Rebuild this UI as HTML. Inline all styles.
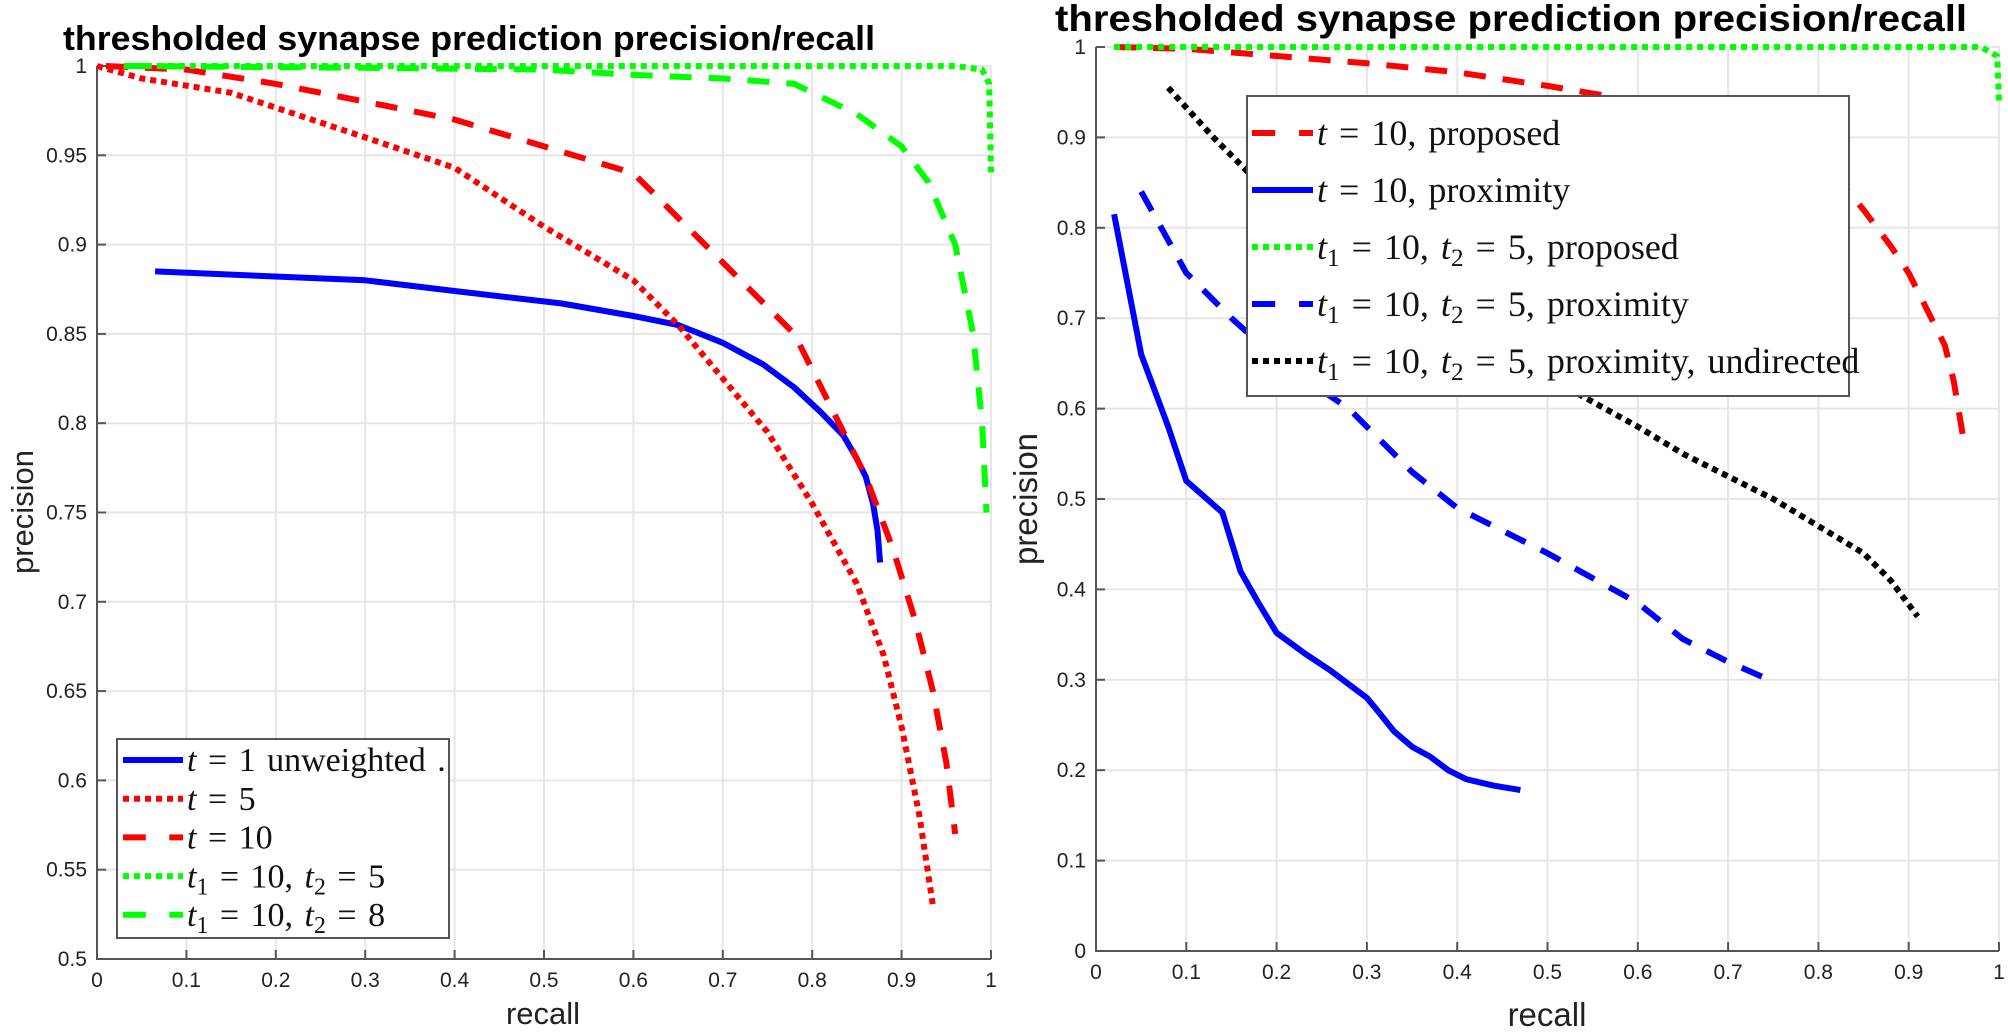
<!DOCTYPE html>
<html><head><meta charset="utf-8">
<style>
html,body{margin:0;padding:0;background:#fff;}
svg{display:block;}
.tk{font-family:"Liberation Sans",sans-serif;font-size:21px;fill:#222;}
.ttl{font-family:"Liberation Sans",sans-serif;font-weight:bold;fill:#000;}
.lab{font-family:"Liberation Sans",sans-serif;fill:#222;}
.leg{font-family:"Liberation Serif",serif;fill:#111;word-spacing:3px;}
</style></head>
<body>
<svg id="chart" width="2008" height="1032" viewBox="0 0 2008 1032" xmlns="http://www.w3.org/2000/svg">
<text class="ttl" x="63" y="50" font-size="34" textLength="812" lengthAdjust="spacingAndGlyphs">thresholded synapse prediction precision/recall</text>
<text class="ttl" x="1055" y="31" font-size="37" textLength="912" lengthAdjust="spacingAndGlyphs">thresholded synapse prediction precision/recall</text>
<text class="lab" x="543" y="1024" font-size="31" text-anchor="middle">recall</text>
<text class="lab" transform="translate(33,512) rotate(-90)" font-size="31" text-anchor="middle">precision</text>
<text class="lab" x="1547" y="1026" font-size="33" text-anchor="middle">recall</text>
<text class="lab" transform="translate(1037,499) rotate(-90)" font-size="33" text-anchor="middle">precision</text>
<g id="L"></g>
<g id="R"></g>
</svg>
<script>
// ---- Left chart data ----
const leftXTicks = [0,0.1,0.2,0.3,0.4,0.5,0.6,0.7,0.8,0.9,1];
const leftYTicks = [0.5,0.55,0.6,0.65,0.7,0.75,0.8,0.85,0.9,0.95,1];
const leftT1Recall = [0.065,0.3,0.4,0.52,0.6,0.65,0.7,0.745,0.78,0.81,0.835,0.85,0.86,0.868,0.873,0.876];
const leftT1Prec   = [0.885,0.88,0.874,0.867,0.86,0.855,0.845,0.833,0.82,0.806,0.793,0.78,0.77,0.755,0.74,0.722];
const leftT5Recall = [0,0.05,0.15,0.3,0.4,0.5,0.6,0.65,0.7,0.75,0.8,0.85,0.88,0.9,0.92,0.935];
const leftT5Prec   = [1,0.993,0.985,0.96,0.943,0.91,0.88,0.855,0.825,0.795,0.755,0.71,0.67,0.63,0.58,0.53];
const leftT10Recall = [0.01,0.1,0.2,0.3,0.4,0.5,0.6,0.7,0.78,0.82,0.86,0.89,0.915,0.935,0.95,0.96];
const leftT10Prec   = [1,0.998,0.99,0.98,0.97,0.955,0.94,0.89,0.85,0.81,0.77,0.73,0.69,0.65,0.61,0.57];
const leftT105Recall = [0.03,0.96,0.99,0.998,1];
const leftT105Prec   = [1,1,0.998,0.99,0.94];
const leftT108Recall = [0.03,0.3,0.5,0.6,0.7,0.78,0.85,0.9,0.93,0.96,0.98,0.99,0.995];
const leftT108Prec   = [1,0.999,0.998,0.995,0.993,0.99,0.973,0.955,0.935,0.9,0.85,0.8,0.75];
// ---- Right chart data ----
const rightXTicks = [0,0.1,0.2,0.3,0.4,0.5,0.6,0.7,0.8,0.9,1];
const rightYTicks = [0,0.1,0.2,0.3,0.4,0.5,0.6,0.7,0.8,0.9,1];
const rPropRecall = [0.02,0.1,0.2,0.3,0.4,0.5,0.6,0.7,0.8,0.85,0.88,0.9,0.92,0.94,0.95,0.96];
const rPropPrec   = [1,0.998,0.99,0.982,0.972,0.957,0.94,0.92,0.88,0.82,0.78,0.75,0.71,0.67,0.63,0.57];
const rProxRecall = [0.02,0.05,0.08,0.1,0.14,0.16,0.18,0.2,0.23,0.26,0.3,0.31,0.33,0.35,0.37,0.39,0.41,0.44,0.47];
const rProxPrec   = [0.815,0.66,0.58,0.52,0.485,0.42,0.385,0.352,0.33,0.31,0.28,0.268,0.243,0.226,0.215,0.2,0.19,0.183,0.178];
const rT2PropRecall = [0.02,0.98,0.998,1];
const rT2PropPrec   = [1,1,0.99,0.94];
const rT2ProxRecall = [0.05,0.1,0.15,0.2,0.25,0.28,0.3,0.35,0.4,0.5,0.6,0.65,0.7,0.75];
const rT2ProxPrec   = [0.84,0.75,0.7,0.655,0.62,0.6,0.58,0.53,0.49,0.44,0.385,0.345,0.32,0.298];
const rUndRecall = [0.08,0.13,0.2,0.3,0.4,0.5,0.6,0.65,0.7,0.75,0.85,0.88,0.91];
const rUndPrec   = [0.955,0.9,0.83,0.74,0.68,0.635,0.58,0.55,0.525,0.5,0.44,0.41,0.37];

const NS='http://www.w3.org/2000/svg';
function mk(tag,attrs,parent){const e=document.createElementNS(NS,tag);for(const k in attrs)e.setAttribute(k,attrs[k]);parent.appendChild(e);return e;}
const DASH='22 17', DOT='6 5';
const BLUE='#0000ff', RED='#ff0000', GREEN='#00ff00', BLACK='#000';

function axes(g,x0,x1,y0,y1,xmin,xmax,ymin,ymax,xt,yt,side){
  const sx=v=>x0+(v-xmin)/(xmax-xmin)*(x1-x0);
  const sy=v=>y0-(v-ymin)/(ymax-ymin)*(y0-y1);
  xt.forEach(v=>{
    const l=mk('line',{x1:sx(v),x2:sx(v),y1:y0,y2:y1,stroke:'#e6e6e6','stroke-width':2},g);
    
    
    const t=mk('line',{x1:sx(v),x2:sx(v),y1:y0,y2:y0-9,stroke:'#555','stroke-width':2},g);
    
    
    const tx=mk('text',{x:sx(v),y:y0+28,'text-anchor':'middle',class:'tk'},g);
    tx.textContent=String(v);
    
    
  });
  yt.forEach(v=>{
    const l=mk('line',{x1:x0,x2:x1,y1:sy(v),y2:sy(v),stroke:'#e6e6e6','stroke-width':2},g);
    
    
    const t=mk('line',{x1:x0,x2:x0+9,y1:sy(v),y2:sy(v),stroke:'#555','stroke-width':2},g);
    
    
    const tx=mk('text',{x:x0-10,y:sy(v)+7,'text-anchor':'end',class:'tk'},g);
    tx.textContent=String(v);
    
    
  });
  const ax=mk('path',{d:`M${x0},${y1} V${y0} H${x1}`,fill:'none',stroke:'#555','stroke-width':2},g);
  
  
  return {sx,sy};
}
function series(g,s,xs,ys,color,dash,name){
  const d=xs.map((x,i)=>(i?'L':'M')+s.sx(x).toFixed(1)+','+s.sy(ys[i]).toFixed(1)).join(' ');
  const p=mk('path',{d,fill:'none',stroke:color,'stroke-width':6,'stroke-linejoin':'round'},g);
  if(dash)p.setAttribute('stroke-dasharray',dash);
  
  
}
function legend(g,x,y,w,h,rows,fs,rowH,firstY,lx0,lx1,side){
  const r=mk('rect',{x,y,width:w,height:h,fill:'#fff',stroke:'#555','stroke-width':2},g);
  
  
  rows.forEach((row,i)=>{
    const yy=firstY+i*rowH;
    let l;
    if(row[1]===DASH){
      const seg=(lx1-lx0)*0.38;
      l=mk('path',{d:`M${lx0},${yy} h${seg} M${lx1-seg*0.6},${yy} H${lx1}`,stroke:row[0],'stroke-width':6,fill:'none'},g);
    } else {
      l=mk('line',{x1:lx0,x2:lx1,y1:yy,y2:yy,stroke:row[0],'stroke-width':6},g);
      if(row[1])l.setAttribute('stroke-dasharray',row[1]);
    }
    
    
    const t=mk('text',{x:lx1+4,y:yy+fs*0.33,class:'leg','font-size':fs},g);
    t.innerHTML=row[2];
    
    
  });
}
const it=a=>`<tspan font-style="italic">${a}</tspan>`;
const sub=(a,b,rest)=>`<tspan font-style="italic">${a}</tspan><tspan font-size="70%" dy="7">${b}</tspan><tspan dy="-7">${rest}</tspan>`;
const two=(end)=>sub('t','1',' = 10, ')+sub('t','2',' = 5'+end);

const L=document.getElementById('L');
const sL=axes(L,97,991,959,66,0,1,0.5,1,leftXTicks,leftYTicks,'left');
series(L,sL,leftT1Recall,leftT1Prec,BLUE,null,'left-t1-unweighted-line');
series(L,sL,leftT5Recall,leftT5Prec,RED,DOT,'left-t5-line');
series(L,sL,leftT10Recall,leftT10Prec,RED,DASH,'left-t10-line');
series(L,sL,leftT108Recall,leftT108Prec,GREEN,DASH,'left-t1-10-t2-8-line');
series(L,sL,leftT105Recall,leftT105Prec,GREEN,DOT,'left-t1-10-t2-5-line');
legend(L,117,739,332,199,[
 [BLUE,null,it('t')+' = 1 unweighted .'],
 [RED,DOT,it('t')+' = 5'],
 [RED,DASH,it('t')+' = 10'],
 [GREEN,DOT,two('')],
 [GREEN,DASH,sub('t','1',' = 10, ')+sub('t','2',' = 8')]
],34,38.7,760,123,183,'left');

const R=document.getElementById('R');
const sR=axes(R,1096,1999,951,47,0,1,0,1,rightXTicks,rightYTicks,'right');
series(R,sR,rPropRecall,rPropPrec,RED,DASH,'right-t10-proposed-line');
series(R,sR,rProxRecall,rProxPrec,BLUE,null,'right-t10-proximity-line');
series(R,sR,rT2ProxRecall,rT2ProxPrec,BLUE,DASH,'right-t1-10-t2-5-proximity-line');
series(R,sR,rUndRecall,rUndPrec,BLACK,DOT,'right-undirected-line');
series(R,sR,rT2PropRecall,rT2PropPrec,GREEN,DOT,'right-t1-10-t2-5-proposed-line');
legend(R,1247,96,602,300,[
 [RED,DASH,it('t')+' = 10, proposed'],
 [BLUE,null,it('t')+' = 10, proximity'],
 [GREEN,DOT,two(', proposed')],
 [BLUE,DASH,two(', proximity')],
 [BLACK,DOT,two(', proximity, undirected')]
],36,57,133,1252,1313,'right');
</script>
</body></html>
